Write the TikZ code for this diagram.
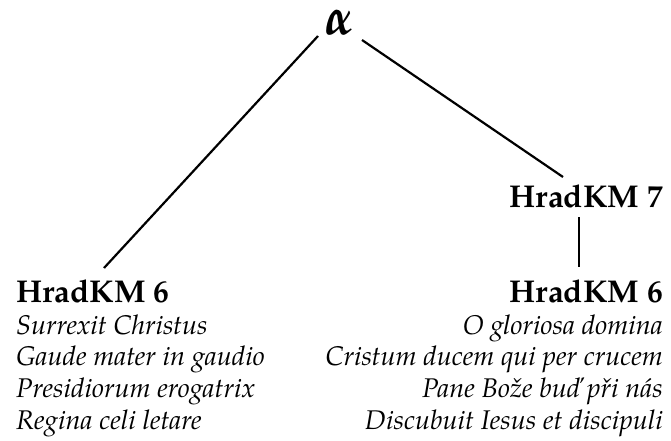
\documentclass[tikz,border=0pt]{standalone}
\usepackage{mathpazo}
\usepackage{bm}
\usepackage{fontspec}
\setmainfont{TeX Gyre Pagella}
\usetikzlibrary{calc}
\begin{document}
\begin{tikzpicture}[x=1pt,y=-1pt,
  title/.style={font=\fontsize{31.5}{36}\selectfont\bfseries, inner sep=0pt},
  songs/.style={font=\fontsize{27}{31}\selectfont\itshape, inner sep=0pt},
  edge/.style={line width=2.2pt}]
\useasboundingbox (0,0) rectangle (671,441);
\node[inner sep=0pt,anchor=base,font=\fontsize{52}{52}\selectfont] (alpha) at (340,35) {$\bm{\alpha}$};
\node[title,anchor=base west] (h6L) at (16,302) {HradKM 6};
\node[title,anchor=base east] (h7) at (663,207) {HradKM 7};
\node[title,anchor=base east] (h6R) at (663,302) {HradKM 6};
\node[songs,anchor=base west] (l1) at (16,334) {Surrexit Christus};
\node[songs,anchor=base west] (l2) at (16,365.7) {Gaude mater in gaudio};
\node[songs,anchor=base west] (l3) at (16,397.3) {Presidiorum erogatrix};
\node[songs,anchor=base west] (l4) at (16,429) {Regina celi letare};
\node[songs,anchor=base east] (r1) at (663,334) {O gloriosa domina};
\node[songs,anchor=base east] (r2) at (663,365.7) {Cristum ducem qui per crucem};
\node[songs,anchor=base east] (r3) at (663,397.3) {Pane Bože buď při nás};
\node[songs,anchor=base east] (r4) at (663,429) {Discubuit Iesus et discipuli};
\draw[edge] ($(alpha.base)+(-22,1)$) -- ($(h6L.base west)+(88,-34)$);
\draw[edge] ($(alpha.base)+(22,5)$) -- ($(h7.base east)+(-100,-30)$);
\draw[edge] ($(h7.base east)+(-84,10)$) -- ($(h6R.base east)+(-84,-35)$);
\end{tikzpicture}
\end{document}
